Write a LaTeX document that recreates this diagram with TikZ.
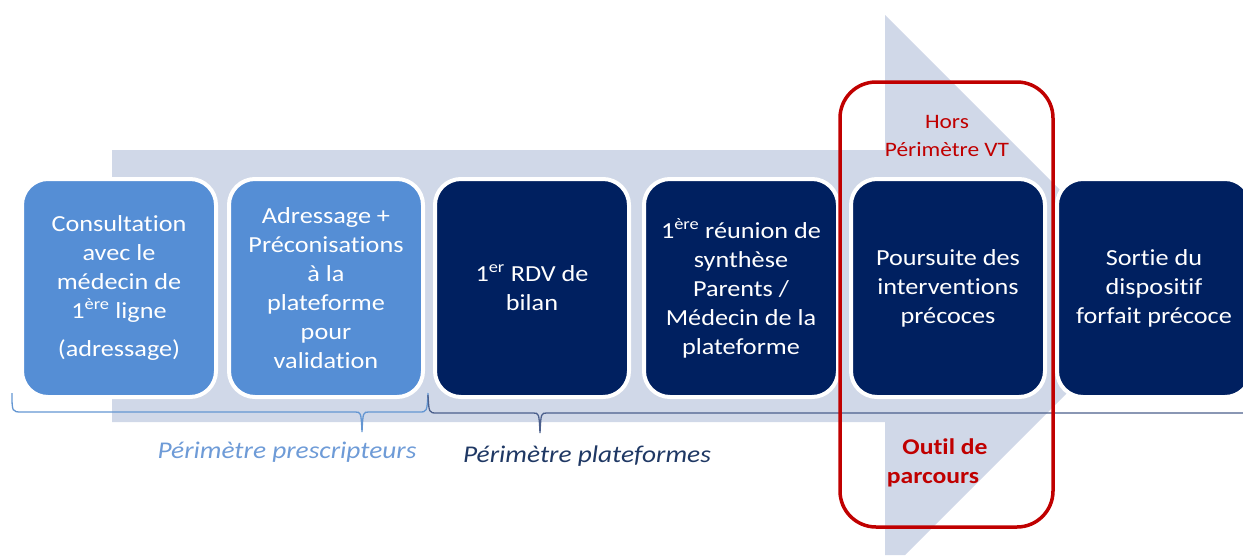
\documentclass[tikz,border=0pt]{standalone}
\usepackage{fontspec}
\setmainfont{Carlito}[FakeStretch=1.14, Ligatures=CommonOff]
\usetikzlibrary{positioning}

\definecolor{flechegris}{RGB}{208,216,232}
\definecolor{bleuclair}{RGB}{85,142,213}
\definecolor{bleufonce}{RGB}{0,32,96}
\definecolor{rougeVT}{RGB}{192,0,0}
\definecolor{accolade1}{RGB}{100,150,210}
\definecolor{accolade2}{RGB}{75,95,140}
\definecolor{txtpresc}{RGB}{110,155,215}
\definecolor{txtplat}{RGB}{31,56,100}

\begin{document}
\begin{tikzpicture}[x=1pt, y=-1pt]
	\tikzset{
		etape/.style={rectangle, rounded corners=26pt, draw=white, line width=4pt,
			minimum width=194pt, minimum height=218pt, text=white, align=center,
			font=\fontsize{23}{29}\selectfont},
		etapeclaire/.style={etape, fill=bleuclair},
		etapefoncee/.style={etape, fill=bleufonce},
		perimetre/.style={font=\fontsize{24}{26}\selectfont\itshape}
	}
	\useasboundingbox (0,0) rectangle (1243,555);
	
	% grande flèche de fond
	\fill[flechegris] (112,150) -- (885,150) -- (885,15) -- (1165,295)
		-- (905,555) -- (885,555) -- (885,422) -- (112,422) -- cycle;
	
	% accolades
	\draw[accolade1, line width=1.3pt] (12,393) .. controls (12,412) .. (22,412) -- (355,412)
		.. controls (361,412) .. (362,432) .. controls (363,412) .. (369,412)
		-- (419,412) .. controls (427,412) .. (428,393);
	\draw[accolade2, line width=1.3pt] (428,395) .. controls (429,413) .. (437,413) -- (533,413)
		.. controls (539,413) .. (540,433) .. controls (541,413) .. (547,413) -- (1243,413);
	
	% étapes du parcours
	\node[etapeclaire] (consult) at (119,288) {Consultation\\avec le\\médecin de\\1\textsuperscript{ère} ligne\\[9pt](adressage)};
	\node[etapeclaire] (adress) at (326,288) {Adressage +\\Préconisations\\à la\\plateforme\\pour\\validation};
	\node[etapefoncee] (rdv) at (532,288) {1\textsuperscript{er} RDV de\\bilan};
	\node[etapefoncee] (reunion) at (741,288) {1\textsuperscript{ère} réunion de\\synthèse\\Parents /\\Médecin de la\\plateforme};
	\node[etapefoncee] (poursuite) at (948,288) {Poursuite des\\interventions\\précoces};
	\node[etapefoncee] (sortie) at (1154,288) {Sortie du\\dispositif\\forfait précoce};
	
	% cadre rouge hors périmètre
	\draw[rougeVT, line width=3.5pt, rounded corners=36pt] (840,82) rectangle (1053,527);
	\node[rougeVT, align=center, font=\fontsize{20.5}{28}\selectfont] (hors) at (947,136) {Hors\\Périmètre VT};
	\node[rougeVT, font=\fontsize{22.5}{26}\selectfont\bfseries] (outil) at (945,447) {Outil de};
	\node[rougeVT, font=\fontsize{22.5}{26}\selectfont\bfseries] (parcours) at (933,480) {parcours};
	
	% libellés des périmètres
	\node[perimetre, text=txtpresc] (presc) at (287,452) {Périmètre prescripteurs};
	\node[perimetre, text=txtplat] (plat) at (587,456) {Périmètre plateformes};
\end{tikzpicture}
\end{document}
